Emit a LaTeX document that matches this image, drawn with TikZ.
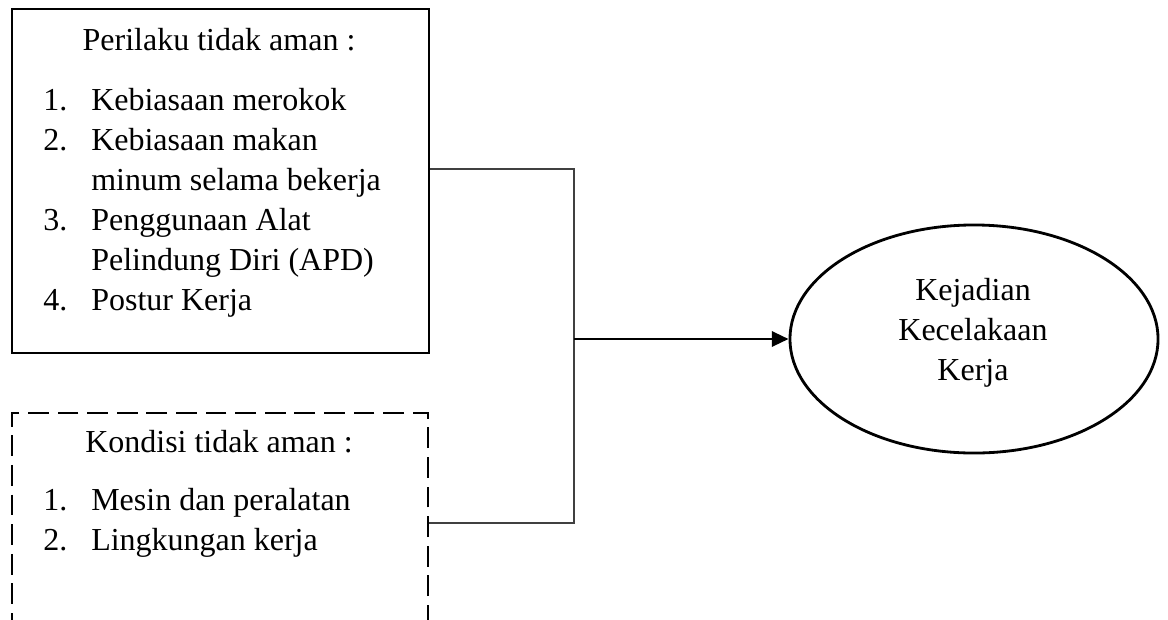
\documentclass[tikz,border=0pt]{standalone}
\usepackage{fontspec}
\setmainfont{Liberation Serif}
\usetikzlibrary{shapes.geometric, arrows.meta, positioning, calc}

\begin{document}
\begin{tikzpicture}[x=0.025cm, y=-0.025cm,
        every node/.style={font=\fontsize{22.75}{28.45}\selectfont},
        txt/.style={anchor=base west, inner sep=0pt},
        ttl/.style={anchor=base, inner sep=0pt},
        box/.style={draw, line width=2pt, minimum width=10.425cm, inner sep=0pt},
        link/.style={draw=black!75, line width=0.75pt},
        flow/.style={line width=2pt, -{Triangle[length=0.42cm, width=0.38cm]}}]
                \useasboundingbox (0,0) rectangle (1168,619);

                % Perilaku tidak aman
                \node[box, minimum height=8.6cm] (act) at (220.5,181) {};
                \node[ttl] (actT) at (219,50) {Perilaku tidak aman :};
                \node[txt] (actN1) at (43,110) {1.};
                \node[txt] (act1) at (91,110) {Kebiasaan merokok};
                \node[txt] (actN2) at (43,150) {2.};
                \node[txt] (act2) at (91,150) {Kebiasaan makan};
                \node[txt] (act2b) at (91,190) {minum selama bekerja};
                \node[txt] (actN3) at (43,230) {3.};
                \node[txt] (act3) at (91,230) {Penggunaan Alat};
                \node[txt] (act3b) at (91,270) {Pelindung Diri (APD)};
                \node[txt] (actN4) at (43,310) {4.};
                \node[txt] (act4) at (91,310) {Postur Kerja};

                % Kondisi tidak aman (runs off the bottom)
                \begin{scope}
                \clip (0,0) rectangle (1168,619);
                \node[box, dash pattern=on 0.52cm off 0.22cm, dash phase=0.15cm, minimum width=10.4cm, minimum height=7.35cm] (cond) at (220,560) {};
                \end{scope}
                \node[ttl] (condT) at (219,452) {Kondisi tidak aman :};
                \node[txt] (condN1) at (43,510) {1.};
                \node[txt] (cond1) at (91,510) {Mesin dan peralatan};
                \node[txt] (condN2) at (43,550) {2.};
                \node[txt] (cond2) at (91,550) {Lingkungan kerja};

                % Kejadian kecelakaan kerja
                \node[ellipse, draw, line width=2pt, minimum width=9.2cm, minimum height=5.7cm, inner sep=0pt] (acc) at (974,339) {};
                \node[align=center, inner sep=0pt] (accT) at (973,333) {Kejadian\\Kecelakaan\\Kerja};

                % connectors
                \coordinate (joinT) at (574,169);
                \coordinate (joinB) at (574,523);
                \draw[link] (joinT -| act.east) -- (joinT) -- (joinB) -- (joinB -| cond.east);
                \draw[flow] (joinT |- acc.west) -- (acc.west);
            \end{tikzpicture}
\end{document}
